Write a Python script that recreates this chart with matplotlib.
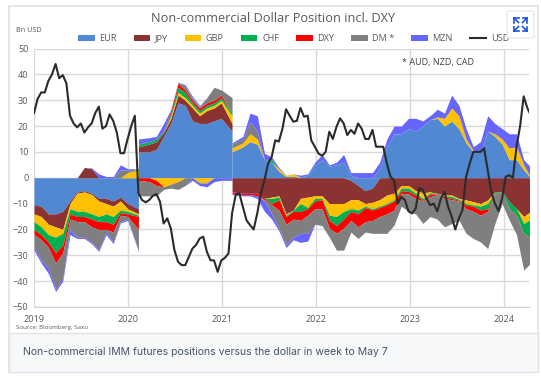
import numpy as np
import matplotlib
matplotlib.use("Agg")
import matplotlib.pyplot as plt
from matplotlib.patches import Rectangle, FancyBboxPatch

# ---------- data: stack edges (Bn USD, 4-weekly from Jan 2019) ----------
neg_eur = [-10.5,-11,-14,-14,-13,-9,-5.5,-5,-6,-8,-8,-9,-7.5,-10,-12] + [0]*29 + [-1,-3,-5,-4] + [0]*22
neg_jpy = [-14,-15,-18,-19,-20,-10,-6,-5.5,-6.5,-9,-10,-11,-9,-12,-14] + [0]*13 + [-5.5,-6,-6,-6,-8,-7.5,-7,-14,-12.5,-8,-7.5,-7,-7,-10,-10,-10,-8.5,-8.5,-10,-9.5,-8.5,-6.7,-6,-3,-3,-5,-5.8,-5.5,-6,-6.7,-6.7,-8,-8.6,-9.3,-10,-8.6,-5.4,-5.4,-9.3,-12,-15,-13]
neg_gbp = [-17,-19,-22,-23,-21.5,-12,-13,-13,-14,-15,-14,-15,-12.5,-13,-14.5] + [0,0,-1,-3.5,-2.5,-1.5,0,0,-2,-2,0,0,0] + [-5.5,-6,-6,-6,-8,-8,-7.5,-14.5,-12.5,-10,-11.5,-8,-8,-14.5,-15,-13,-12,-12.5,-11,-12,-11,-10,-8.5,-4,-4,-6,-8,-5.8,-6,-7,-7.2,-8.3,-10,-10.5,-11,-10,-5.4,-5.4,-9.3,-12,-17.7,-16]
neg_chf = [-20,-22,-25,-29,-26,-14,-15,-15,-16,-17,-17,-18,-13.5,-14,-15] + [0,0,-1,-3.5,-2.5,-1.5,0,0,-2,-2,0,0,0] + [-5.5,-6,-6,-6,-8,-10,-8.5,-15,-13,-13,-12,-9,-8.5,-16.5,-18.5,-16,-13,-14,-11.5,-12.5,-11.5,-10.5,-9,-5,-5.3,-6.7,-8.7,-6.3,-6.3,-7.3,-8,-8.7,-10.6,-11,-12.5,-12,-6,-5.6,-12,-14.5,-21.5,-23]
neg_dxy = [-22,-24,-27,-33,-29,-16,-17,-17,-19,-20,-20,-21,-14.5,-15,-20] + [-1,-1.5,-3,-3.5,-2.5,-1.5,0,0,-2,-2,0,0,0] + [-6,-6.5,-6.5,-7,-8.5,-10.5,-12.5,-18,-16,-16.5,-14.5,-12,-12,-19.5,-21.5,-19.5,-16.5,-19,-17,-16.5,-15,-14,-12.5,-6,-6.3,-8,-9,-7.3,-6.5,-8,-8.5,-9,-12,-13,-14.5,-13,-6.3,-5.7,-12.2,-14.7,-21.7,-23.2]
neg_dm  = [-27,-32,-35,-43,-39,-20,-23,-23,-25,-28,-21,-25,-17,-16,-28] + [-7,-7,-7,-4.5,-4,-4.5,-3,0,-2,-2,0,0,0] + [-6,-6.5,-6.5,-7,-9,-14,-19.5,-26,-23,-21.5,-21.5,-18,-18.5,-23,-28,-28,-21,-23.5,-21,-21.5,-21.5,-21.5,-18.3,-11,-13,-14,-17.7,-15,-16,-19,-17.7,-16.4,-21.5,-23.5,-24.8,-27.4,-17.7,-10,-16.4,-22,-35.7,-33]
neg_mzn = [-28,-33,-37,-44,-40,-22,-23.5,-23.5,-25.5,-28.5,-22,-25.5,-17.5,-16.5,-28.5] + [-7,-7,-7,-4.5,-4,-4.5,-3,-1,-3,-3.5,-1.5,-1,-1] + [-6.5,-7,-7,-8,-13,-16,-20.5,-27,-24,-25,-24.5,-18,-18.5,-23,-28,-28,-21,-23.5,-21,-21.5,-21.5,-21.5,-18.3,-11,-13,-14,-17.7,-15,-16,-19,-17.7,-16.4,-21.5,-23.5,-24.8,-27.4,-17.7,-10,-16.4,-22,-35.7,-33]

pos_eur = [0]*15 + [10,10,11,16,21,29,28,22,21,21,22,23,18] + [10,12,14,13,7,6,2.5,.5,.5,.3,1,5,7,4.5,5,6,1,0,0,0,3.5,12,17,17,19,18,20,22.5,23,20,22,19,13.5,10,10,18,16,13,7,7,3,0]
pos_jpy = [0]*7 + [4,3.5] + [0]*6 + [12,13,14,17.5,23,32,30,27,24,26,27,29,21] + [10,12,14,13,7,6,2.5,.5,.5,.3,1,5,7,4.5,5,6,1,0,0,0,3.5,12,17,17,19,18,20,22.5,23,20,22,19,13.5,10,10,18,16,13,7,7,3,0]
pos_gbp = [0]*7 + [4,3.5,0,0,0,0,2,3] + [12,13,14,17.5,24,33,31,28,25,27,28,30,24] + [11.5,13.5,17,15,7,6,3.5,1,1.5,.3,1,5,7,4.5,5,6,1,0,0,0,3.5,12,17,17,19,18,20,22.5,23.5,23,27,24,15,10.5,10,18,17,15,11.5,12,5,0]
pos_chf = [0]*7 + [4,3.5,0,0,0,0,2,3.5] + [13,14,15,18,25,35,33,29,26,28,29,31,25] + [11.5,13.5,17,15,7,7,3.5,1,1.5,.3,1,5,7,4.5,5,6,1,0,0,0,3.5,12,17,17,19,18,20,22.5,23.5,23,27,24,15,10.5,10,18,17,15,11.5,12,5,0]
pos_dxy = [0]*7 + [4,3.5,0,0,0,0,2,3.5] + [13,14,15,18,26,36.5,34,30,27,29,30,32,25] + [11.5,13.5,17,15,7,7,3.5,1,1.5,.3,1,5,7,4.5,5,6,1,0,0,0,3.5,12,17,17,19,18,20,22.5,23.5,23,27,24,15,10.5,10,18,17,15,11.5,12,5,0]
pos_dm  = [0]*7 + [4,3.5,0,0,0,3,3,3.5] + [13,14,15,18,26,37,35.5,31,27.5,31,35,34,31] + [13,15,21.7,18,7,7,3.5,1,1.5,.3,1,5,7,4.5,5,6,1,0,0,0,3.5,12,17,17,19,18,20,22.5,23.5,23,27,24,15,10.5,10,18,17,15,11.5,12,5,0]
pos_mzn = [0]*7 + [4,3.8,1.5,.5,.5,5,3.5,3.5] + [15,15.5,16,21,26.5,37,36,31.5,28,31,35,34,31] + [13.5,16,25,24,9.5,8,4,1,1.5,1,1.5,6,9,5,6,9,2,2,2,2,6,15,20,20,23,23,22,24,26.5,25,32,28,19,12,14,24,21,19,17,17,7,4]

# USD line, fortnightly from Jan 2019
usd = [25,30.5,33,33,37.5,40,44,38.5,39.7,36.5,24,21,19.5,21,17.5,19.5,21,25,27.5,19,20,24.5,22,17.5,9.5,9.5,15,20,24,-6,
       -8.6,-9.5,-8.6,-7,-6.3,-9.3,-17.7,-15.7,-19.6,-28,-32.5,-33.8,-33.8,-30.6,-27.4,-26,-23.5,-22.8,-28.6,-31.9,-32,-36.4,-32,-31,-29.3,-13.8,-6.7,-6,-11.2,-16.4,-18.3,-20,-13.8,-6,-1,5.5,
       8,14.5,14,19,26.5,24,21.7,22,27,23.6,24,14.5,12,9.4,8.5,10,17.8,15,19.7,23,21,16.5,18.5,17,21,19,15,15,18.5,12,12,12,5.5,.4,-1,-10,-7.4,-8.6,-13,-13.8,-11.9,-4,-4.8,-8,-10.6,-10,-13,-8,-5.4,-11.2,-15,-20,-15.7,-12.5,.4,5.5,10,10,10,11.4,3,-5.4,-10,-12.8,-8,.4,1,0,12,20,31.5,27,24]

series = ["EUR","JPY","GBP","CHF","DXY","DM *","MZN"]
colors = ["#5088D2","#8B3232","#FFC000","#00B050","#FF0000","#7F7F7F","#6666FF"]
yticks = list(range(-50,60,10))
years = [2019,2020,2021,2022,2023,2024]
flips = [15, 28]   # weeks at which EUR and JPY positioning changes sign

# ---------- figure ----------
W, H = 541, 379
fig = plt.figure(figsize=(W/100, H/100), dpi=100, facecolor="white")
plt.rcParams["font.family"] = ["Open Sans", "DejaVu Sans"]

bg = fig.add_axes([0,0,1,1], zorder=0)
bg.set_xlim(0,W); bg.set_ylim(H,0); bg.axis("off")
bg.add_patch(Rectangle((8.5,5.5),529.5,366.5,fc="white",ec="#dfe2e6",lw=1.2))
bg.add_patch(Rectangle((8.5,333),529.5,39,fc="#f6f8fa",ec="#dfe2e6",lw=1.0))
bg.text(23,352,"Non-commercial IMM futures positions versus the dollar in week to May 7",
        fontsize=7.55,color="#4a5568",family="Inter",va="center")

L,R,T,B = 34,528.7,48.5,307
ax = fig.add_axes([L/W,1-B/H,(R-L)/W,(B-T)/H], zorder=1)
ax.patch.set_alpha(0)
wk = 28/365.25
x = 2019 + np.arange(len(neg_eur))*wk
neg = [neg_eur,neg_jpy,neg_gbp,neg_chf,neg_dxy,neg_dm,neg_mzn]
pos = [pos_eur,pos_jpy,pos_gbp,pos_chf,pos_dxy,pos_dm,pos_mzn]
bounds = [0]+flips+[len(x)]
prev_n = np.zeros(len(x)); prev_p = np.zeros(len(x))
for name,c,n,p in zip(series,colors,neg,pos):
    n = np.array(n,float); p = np.array(p,float)
    for j,(a,b) in enumerate(zip(bounds[:-1],bounds[1:])):
        xs = x[a:b].copy()
        if a>0: xs[0] -= wk/2
        if b<len(x): xs[-1] += wk/2
        ax.fill_between(xs,prev_n[a:b],n[a:b],color=c,lw=0,zorder=2,label=name if j==0 else None)
        ax.fill_between(xs,prev_p[a:b],p[a:b],color=c,lw=0,zorder=2)
    prev_n, prev_p = n, p
xu = 2019 + np.arange(len(usd))*14/365.25
ax.plot(xu,usd,color="#2b2b2b",lw=1.5,zorder=3,label="USD",solid_joinstyle="round")

ax.set_xlim(2019,2024.266); ax.set_ylim(-50,50)
ax.set_yticks(yticks); ax.set_xticks(years)
ax.set_xticklabels([str(y) for y in years])
ax.grid(True,color="#d9d9d9",lw=1.0,zorder=1)
ax.set_axisbelow(True)
for s in ["top","right","left"]:
    ax.spines[s].set_visible(False)
ax.spines["bottom"].set_color("#d0d0d0")
ax.tick_params(length=0,labelsize=6.6,labelcolor="#595959",pad=4)
ax.tick_params(axis="x",pad=5.5)
leg = ax.legend(ncol=8,loc="lower left",bbox_to_anchor=(0.089,1.02),frameon=False,
                fontsize=6.6,labelcolor="#595959",handlelength=1.8,handleheight=0.55,
                columnspacing=1.86,handletextpad=0.5,borderpad=0,borderaxespad=0)

top = fig.add_axes([0,0,1,1], zorder=2)
top.set_xlim(0,W); top.set_ylim(H,0); top.axis("off"); top.patch.set_alpha(0)
top.text(273.5,18,"Non-commercial Dollar Position incl. DXY",fontsize=9.17,color="#595959",ha="center",va="center")
top.text(16,30,"Bn USD",fontsize=5.2,color="#595959",va="center")
top.text(402,63,"* AUD, NZD, CAD",fontsize=6.5,color="#404040",va="center")
top.text(16,327,"Source: Bloomberg, Saxo",fontsize=4.4,color="#595959",va="center")
top.add_patch(FancyBboxPatch((507,11),27,27,boxstyle="round,pad=0,rounding_size=2",fc="white",ec="#e2e5e9",lw=0.8))
for (x0,y0,dx,dy) in [(514,18,1,1),(527,18,-1,1),(514,31,1,-1),(527,31,-1,-1)]:
    top.plot([x0,x0+4.5*dx],[y0,y0],color="#1a56db",lw=1.2)
    top.plot([x0,x0],[y0,y0+4.5*dy],color="#1a56db",lw=1.2)
    top.plot([x0,x0+4.5*dx],[y0,y0+4.5*dy],color="#1a56db",lw=1.2)

fig.savefig("out.png",dpi=100)
